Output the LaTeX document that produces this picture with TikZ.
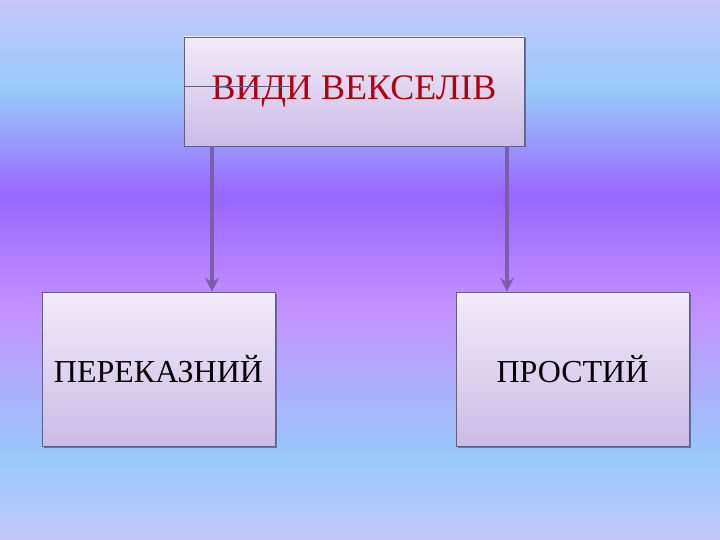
\documentclass[tikz,border=0pt]{standalone}
\usepackage{fontspec}
\setmainfont{Liberation Serif}
\usetikzlibrary{arrows.meta,shadows}
\definecolor{bgA}{HTML}{C6C6FA}
\definecolor{bgB}{HTML}{98CAFA}
\definecolor{bgC}{HTML}{9966FF}
\definecolor{bgD}{HTML}{C392FF}
\definecolor{boxTop}{HTML}{F2EBF8}
\definecolor{boxBot}{HTML}{CBBCE6}
\definecolor{boxLine}{HTML}{5E5E86}
\definecolor{arrowCol}{HTML}{7A5EAA}
\definecolor{titleRed}{HTML}{B00010}
\pgfdeclareverticalshading{bgshade}{100bp}{color(0bp)=(bgA); color(25bp)=(bgA); color(32.4bp)=(bgB); color(46.3bp)=(bgD); color(56.9bp)=(bgC); color(66.7bp)=(bgB); color(75bp)=(bgA); color(100bp)=(bgA)}
\tikzset{
  boxnode/.style={draw=boxLine, line width=0.9pt, top color=boxTop, bottom color=boxBot,
    drop shadow={shadow xshift=1.5pt, shadow yshift=-1.5pt, fill=boxLine, opacity=0.8},
    inner sep=0pt},
  conn/.style={draw=arrowCol, line width=3.2pt, -{Stealth[length=14pt,width=14pt,inset=5pt]}}
}
\begin{document}
\begin{tikzpicture}[x=1pt,y=-1pt]
\useasboundingbox (0,0) rectangle (720,540);
\shade[shading=bgshade] (0,0) rectangle (720,540);
\node[boxnode, minimum width=340pt, minimum height=109pt, text=titleRed, font=\fontsize{36}{40}\selectfont] (top) at (354,91.5) {ВИДИ ВЕКСЕЛІВ};
\node[boxnode, minimum width=233pt, minimum height=154pt, font=\fontsize{32}{36}\selectfont] (left) at (158.5,369) {ПЕРЕКАЗНИЙ};
\node[boxnode, minimum width=233pt, minimum height=154pt, font=\fontsize{32}{36}\selectfont] (right) at (572.5,369) {ПРОСТИЙ};
\coordinate (mark) at (290,86);
\draw[boxLine, line width=0.7pt] (top.west |- mark) -- (mark);
\draw[conn] (top.south -| 212,0) -- (left.north -| 212,0);
\draw[conn] (top.south -| 507,0) -- (right.north -| 507,0);
\end{tikzpicture}
\end{document}
